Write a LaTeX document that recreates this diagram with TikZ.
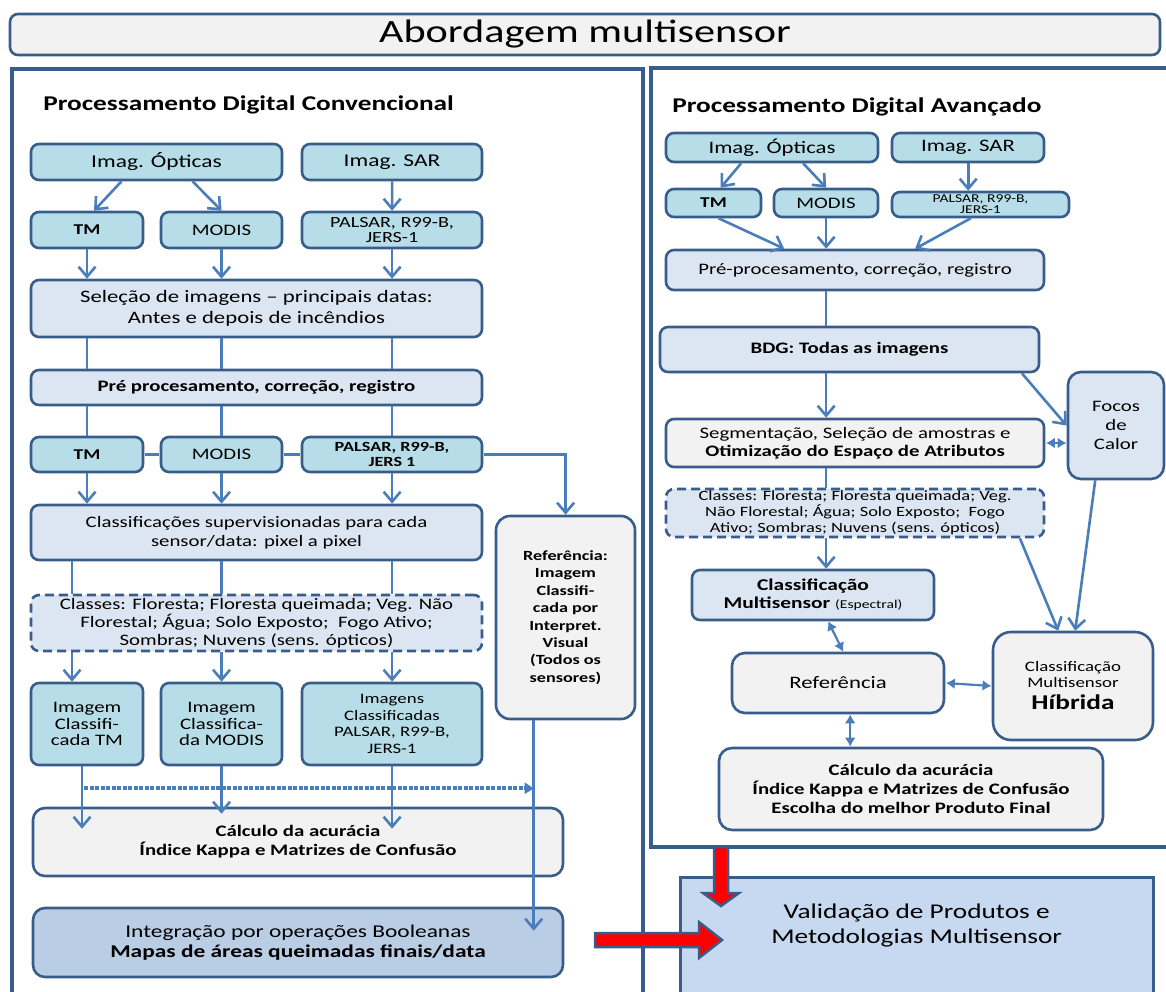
\documentclass[tikz,border=0pt]{standalone}
\usepackage{fontspec}
\setmainfont{Carlito}
\usetikzlibrary{arrows.meta, calc}
\definecolor{edge}{HTML}{385D8A}
\definecolor{flow}{HTML}{4A7EBB}
\definecolor{aquafill}{HTML}{B7DEE8}
\definecolor{palefill}{HTML}{DCE6F2}
\definecolor{greyfill}{HTML}{F2F2F2}
\definecolor{midfill}{HTML}{B9CDE5}
\definecolor{validfill}{HTML}{C6D9F1}
\newcommand{\fsz}[2]{\fontsize{#1}{#2}\selectfont}
\tikzset{
    sz/.style 2 args={minimum width={#1*0.76923pt}, minimum height={#2*1pt}},
    box/.style={draw=edge, line width=2.6pt, rounded corners=8pt, align=center, inner sep=1pt},
    aquabox/.style={box, fill=aquafill},
    palebox/.style={box, fill=palefill},
    greybox/.style={box, fill=greyfill},
    arr/.style={draw=flow, line width=2.6pt, -{Straight Barb[length=10pt, width=17pt]}},
    link/.style={draw=flow, line width=2.6pt},
    dbl/.style={draw=flow, line width=2.2pt, {Latex[length=9pt, width=11pt]}-{Latex[length=9pt, width=11pt]}},
    dotarr/.style={draw=flow, line width=4pt, dash pattern=on 4pt off 1.5pt, -{Triangle[length=9pt, width=11pt]}},
    panel/.style={draw=edge, line width=4.5pt},
    heading/.style={anchor=west, inner sep=0pt, font=\bfseries\fsz{21}{25}},
    redarr/.style={fill=red, draw=edge, line width=2.5pt}
}

\begin{document}
\begin{tikzpicture}[x=0.76923pt, y=-1pt, xscale=1.3, transform shape]
            \clip (0,0) rectangle (1166,991);

            % titulo
            \node[greybox, sz={1150}{41}, font=\fsz{32.5}{36}] (title) at (585,34.5) {Abordagem multisensor};

            % paineis
            \draw[panel] (12,69) rectangle (643,1010);
            \draw[panel] (651,68) rectangle (1180,847);
            \node[heading] (lhead) at (43,105) {Processamento Digital Convencional};
            \node[heading] (rhead) at (672,107) {Processamento Digital Avançado};

            % coluna esquerda
            \node[aquabox, sz={251}{36}, font=\fsz{18}{20}] (lopt) at (156.5,162) {Imag. Ópticas};
            \node[aquabox, sz={180}{36}, font=\fsz{18}{20}] (lsar) at (392,162) {Imag. SAR};
            \node[aquabox, sz={112}{36}, font=\bfseries\fsz{15}{18}] (ltm) at (87,230) {TM};
            \node[aquabox, sz={121}{36}, font=\fsz{16}{18}] (lmod) at (221.5,230) {MODIS};
            \node[aquabox, sz={180}{36}, inner sep=0pt, font=\fsz{15.5}{15}] (lpal) at (392,230) {PALSAR, R99-B,\\JERS-1};
            \node[palebox, sz={451}{57}, font=\fsz{17.5}{21}] (lsel) at (256.5,308.5) {Seleção de imagens -- principais datas:\\Antes e depois de incêndios};
            \node[palebox, sz={451}{35}, font=\bfseries\fsz{16}{18}] (lpre) at (256.5,387.5) {Pré procesamento, correção, registro};
            \node[aquabox, sz={112}{35}, font=\bfseries\fsz{15}{18}] (ltm2) at (87,454.5) {TM};
            \node[aquabox, sz={121}{35}, font=\fsz{16}{18}] (lmod2) at (221.5,454.5) {MODIS};
            \node[aquabox, sz={180}{35}, inner sep=0pt, font=\bfseries\fsz{14}{15}] (lpal2) at (392,454.5) {PALSAR, R99-B,\\JERS 1};
            \node[palebox, sz={451}{55}, font=\fsz{16}{19}] (lcla) at (256.5,532.5) {Classificações supervisionadas para cada\\sensor/data: pixel a pixel};
            \node[palebox, dash pattern=on 9pt off 5pt, sz={451}{56}, inner sep=0pt, font=\fsz{16}{18}] (lcls) at (256.5,623) {Classes: Floresta; Floresta queimada; Veg. Não\\Florestal; Água; Solo Exposto;~~Fogo Ativo;\\Sombras; Nuvens (sens. ópticos)};
            \node[aquabox, sz={112}{82}, font=\fsz{16}{16.5}] (limtm) at (87,724) {Imagem\\Classifi-\\cada TM};
            \node[aquabox, sz={121}{82}, font=\fsz{16}{16.5}] (limmod) at (221.5,724) {Imagem\\Classifica-\\da MODIS};
            \node[aquabox, sz={180}{82}, font=\fsz{14.5}{16.5}] (limpal) at (392,724) {Imagens\\Classificadas\\PALSAR, R99-B,\\JERS-1};
            \node[greybox, rounded corners=14pt, sz={139}{203}, font=\bfseries\fsz{14}{17.4}] (lref) at (565.5,617.5) {Referência:\\Imagem\\Classifi-\\cada por\\Interpret.\\Visual\\(Todos os\\sensores)};
            \node[greybox, rounded corners=12pt, sz={530}{68}, font=\bfseries\fsz{16}{19}] (lcal) at (298,842) {Cálculo da acurácia\\Índice Kappa e Matrizes de Confusão};
            \node[box, fill=midfill, rounded corners=12pt, sz={530}{69}, font=\fsz{18}{20}] (lint) at (298,942.5) {Integração por operações Booleanas\\\textbf{Mapas de áreas queimadas finais/data}};

            \draw[arr] ($(lopt.south)+(-35,0)$) -- ($(ltm.north)+(7,0)$);
            \draw[arr] ($(lopt.south)+(36,0)$) -- (lmod.north);
            \draw[arr] (lsar) -- (lpal);
            \foreach \n in {tm, mod, pal} {
                \draw[arr] (l\n.south) -- (l\n.south |- lsel.north);
                \draw[link] (lsel.south -| l\n) -- (lpre.north -| l\n);
                \draw[link] (lpre.south -| l\n) -- (l\n2.north);
                \draw[arr] (l\n2.south) -- (l\n2.south |- lcla.north);
            }
            \draw[link] (ltm2) -- (lmod2);
            \draw[link] (lmod2) -- (lpal2);
            \draw[arr] (lpal2.east) -| (lref.north);
            \foreach \n/\d in {tm/-15, mod/0, pal/0} {
                \draw[link] ($(lcla.south -| l\n)+(\d,0)$) -- ($(lcls.north -| l\n)+(\d,0)$);
                \draw[arr] ($(lcls.south -| l\n)+(\d,0)$) -- ($(limtm.north -| l\n)+(\d,0)$);
            }
            \draw[arr, shorten >=-22pt] ($(limtm.south)+(-5,0)$) -- ($(limtm.south |- lcal.north)+(-5,0)$);
            \draw[arr, shorten >=-7pt] (limmod.south) -- (limmod.south |- lcal.north);
            \draw[arr, shorten >=-22pt] (limpal.south) -- (limpal.south |- lcal.north);
            \coordinate (refout) at ($(lref.south)+(-32,0)$);
            \coordinate (dotin) at ($(limtm.south)+(-3,22)$);
            \draw[arr, shorten >=-24pt] (refout) -- (refout |- lint.north);
            \draw[dotarr] (dotin) -- (dotin -| refout);

            % coluna direita
            \node[aquabox, sz={212}{29}, font=\fsz{17.5}{19}] (ropt) at (772,147.5) {Imag. Ópticas};
            \node[aquabox, sz={152}{29}, font=\fsz{17.5}{19}] (rsar) at (968,147.5) {Imag. SAR};
            \node[aquabox, sz={95}{28}, font=\bfseries\fsz{15}{17}] (rtm) at (713.5,203) {TM};
            \node[aquabox, sz={104}{28}, font=\fsz{16}{17}] (rmod) at (826,203) {MODIS};
            \node[aquabox, sz={177}{25}, inner sep=0pt, font=\fsz{12}{11}] (rpal) at (980.5,204.5) {PALSAR, R99-B,\\JERS-1};
            \node[palebox, sz={378}{40}, font=\fsz{16}{18}] (rpre) at (855,270) {Pré-procesamento, correção, registro};
            \node[palebox, sz={379}{45}, font=\bfseries\fsz{16}{18}] (rbdg) at (849.5,349.5) {BDG: Todas as imagens};
            \node[greybox, sz={378}{48}, font=\fsz{16}{18}] (rseg) at (855,443) {Segmentação, Seleção de amostras e\\\textbf{Otimização do Espaço de Atributos}};
            \node[palebox, rounded corners=13pt, sz={96}{107}, font=\fsz{16}{19}] (rfoc) at (1116,425.5) {Focos\\de\\Calor};
            \node[palebox, dash pattern=on 9pt off 5pt, sz={378}{48}, inner sep=0pt, font=\fsz{14.2}{16}] (rcls) at (855,513) {Classes: Floresta; Floresta queimada; Veg.\\Não Florestal; Água; Solo Exposto;~~Fogo\\Ativo; Sombras; Nuvens (sens. ópticos)};
            \node[palebox, sz={242}{50}, font=\bfseries\fsz{16.5}{18}] (rmul) at (813,595) {Classificação\\Multisensor {\mdseries\fsz{12}{18}(Espectral)}};
            \node[greybox, rounded corners=13pt, sz={212}{60}, font=\fsz{17.5}{20}] (rref) at (838,683) {Referência};
            \node[greybox, rounded corners=18pt, sz={160}{108}, font=\fsz{14.5}{16}] (rhib) at (1073,686) {Classificação\\Multisensor\\[6pt]{\bfseries\fsz{21}{22}Híbrida}};
            \node[greybox, rounded corners=13pt, sz={384}{82}, font=\bfseries\fsz{16}{19}] (rcal) at (911,789) {Cálculo da acurácia\\Índice Kappa e Matrizes de Confusão\\Escolha do melhor Produto Final};
            \node[draw=edge, line width=3pt, fill=validfill, sz={473}{130},
                label={[font=\fsz{21}{25}, align=center, yshift=16.5pt]center:Validação de Produtos e\\Metodologias Multisensor}] (rval) at (916.5,942) {};

            \draw[arr] ($(ropt.south)+(-31,0)$) -- ($(rtm.north)+(7,0)$);
            \draw[arr] ($(ropt.south)+(31,0)$) -- (rmod.north);
            \draw[arr] (rsar.south) -- (rsar.south |- rpal.north);
            \draw[arr] ($(rtm.south)+(5,0)$) -- ($(rpre.north)+(-71,0)$);
            \draw[arr] (rmod.south) -- (rmod.south |- rpre.north);
            \draw[arr] ($(rpal.south)+(-10,0)$) -- ($(rpre.north)+(60,0)$);
            \draw[link] (rpre.south -| rmod) -- (rbdg.north -| rmod);
            \draw[arr] (rbdg.south -| rmod) -- (rseg.north -| rmod);
            \draw[arr] ($(rbdg.south east)+(-19,0)$) -- (rfoc.west);
            \draw[dbl] (rseg.east) -- (rseg.east -| rfoc.west);
            \draw[link] (rseg.south -| rmod) -- (rcls.north -| rmod);
            \draw[arr] (rcls.south -| rmod) -- (rmul.north -| rmod);
            \draw[arr] ($(rcls.south east)+(-26,0)$) -- ($(rhib.north)+(-15,0)$);
            \draw[arr] ($(rfoc.south)+(-21,0)$) -- ($(rhib.north)+(2,0)$);
            \draw[dbl] ($(rmul.south)+(15,0)$) -- ($(rref.north)+(5,0)$);
            \draw[dbl] ($(rref.south)+(12,0)$) -- ($(rref.south |- rcal.north)+(12,0)$);
            \draw[dbl] (rref.east) -- (rhib.west);

            % setas vermelhas
            \filldraw[redarr] (595,933) -- (699,933) -- (699,922) -- (722,940) -- (699,958) -- (699,947) -- (595,947) -- cycle;
            \filldraw[redarr] (714,847) -- (714,893) -- (703,893) -- (721,906) -- (739,893) -- (728,893) -- (728,847) -- cycle;
        \end{tikzpicture}
\end{document}
